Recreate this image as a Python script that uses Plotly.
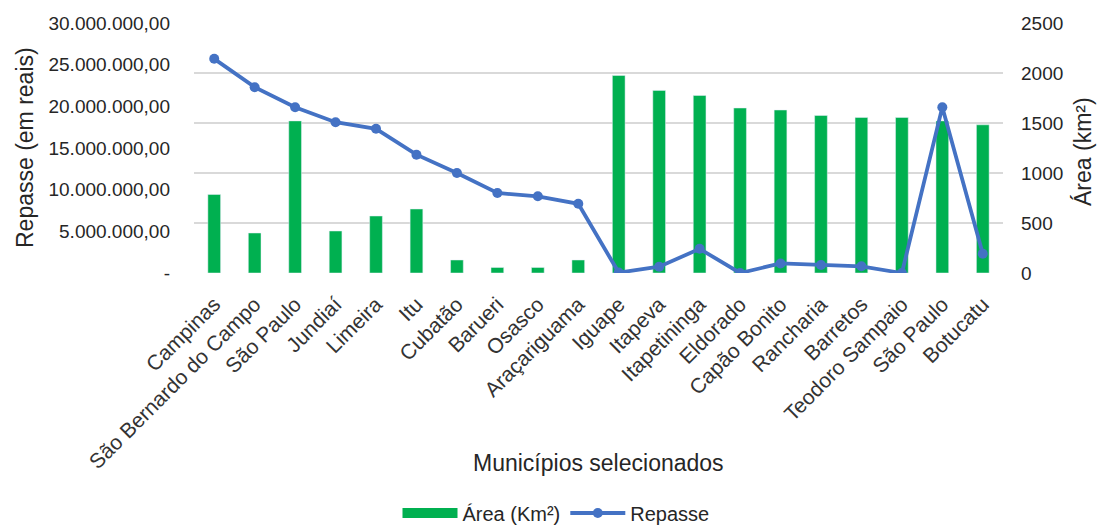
import plotly.graph_objects as go

municipios = ["Campinas", "São Bernardo do Campo", "São Paulo", "Jundiaí", "Limeira", "Itu",
              "Cubatão", "Barueri", "Osasco", "Araçariguama", "Iguape", "Itapeva", "Itapetininga",
              "Eldorado", "Capão Bonito", "Rancharia", "Barretos", "Teodoro Sampaio", "São Paulo",
              "Botucatu"]
area_km2 = [785, 400, 1521, 420, 570, 640, 130, 55, 55, 130, 1975, 1826, 1775, 1650, 1630,
            1575, 1555, 1555, 1521, 1482]
repasse = [25700000, 22300000, 19900000, 18100000, 17300000, 14200000, 12000000, 9600000,
           9200000, 8300000, 50000, 750000, 2900000, 0, 1150000, 950000, 800000, 0,
           19900000, 2300000]
left_ticks = [0, 5000000, 10000000, 15000000, 20000000, 25000000, 30000000]
left_ticktext = ["-", "5.000.000,00", "10.000.000,00", "15.000.000,00", "20.000.000,00",
                 "25.000.000,00", "30.000.000,00"]
right_ticks = [0, 500, 1000, 1500, 2000, 2500]

x = list(range(len(municipios)))
font = "Liberation Sans, Arial, sans-serif"
GREEN = "#00B050"
BLUE = "#4472C4"
TXT = "#262626"

fig = go.Figure()
fig.add_trace(go.Bar(x=x, y=area_km2, name="Área (Km²)", marker_color=GREEN,
                     yaxis="y", showlegend=False))
fig.add_trace(go.Scatter(x=[None], y=[None], name="Área (Km²)", mode="lines",
                         line=dict(color=GREEN, width=12), yaxis="y"))
fig.add_trace(go.Scatter(x=x, y=repasse, name="Repasse", mode="lines+markers",
                         line=dict(color=BLUE, width=3.8),
                         marker=dict(color=BLUE, size=10), yaxis="y2"))

fig.update_layout(
    width=1104, height=527,
    paper_bgcolor="white", plot_bgcolor="white",
    margin=dict(l=194, r=101, t=23, b=254, autoexpand=False),
    font=dict(family=font, color=TXT, size=19),
    bargap=0.686,
    xaxis=dict(tickvals=x, ticktext=municipios, tickangle=-45, range=[-0.5, 19.5],
               showgrid=False, zeroline=False, showline=False, ticks="",
               automargin=False, ticklabelstandoff=14,
               tickfont=dict(size=21, color="#333333")),
    yaxis=dict(side="right", range=[0, 2500], tickvals=right_ticks,
               showgrid=True, gridcolor="#D9D9D9", gridwidth=1.5, zeroline=False,
               automargin=False, ticklabelstandoff=17,
               tickfont=dict(size=19, color=TXT), ticks=""),
    yaxis2=dict(side="left", overlaying="y", range=[0, 30000000], tickvals=left_ticks,
                ticktext=left_ticktext, showgrid=False, zeroline=False,
                automargin=False, ticklabelstandoff=23,
                tickfont=dict(size=19, color=TXT), ticks=""),
    legend=dict(orientation="h", x=(556 - 194) / 809, xanchor="center",
                y=(273 - 513) / 250, yanchor="middle", itemwidth=55,
                font=dict(size=20, color=TXT), traceorder="normal"),
    annotations=[
        dict(text="Repasse (em reais)", xref="paper", yref="paper",
             x=(25 - 194) / 809, y=0.5, textangle=-90, showarrow=False,
             xanchor="center", yanchor="middle", font=dict(size=23, color=TXT)),
        dict(text="Área (km²)", xref="paper", yref="paper",
             x=(1083 - 194) / 809, y=(273 - 152) / 250, textangle=-90, showarrow=False,
             xanchor="center", yanchor="middle", font=dict(size=23, color=TXT)),
        dict(text="Municípios selecionados", xref="paper", yref="paper",
             x=(598 - 194) / 809, y=(273 - 463) / 250, showarrow=False,
             xanchor="center", yanchor="middle", font=dict(size=23, color=TXT)),
    ],
)

fig.write_html("out.html", config={"displayModeBar": False},
               post_script="document.body.style.margin='0';document.body.style.overflow='hidden';")
